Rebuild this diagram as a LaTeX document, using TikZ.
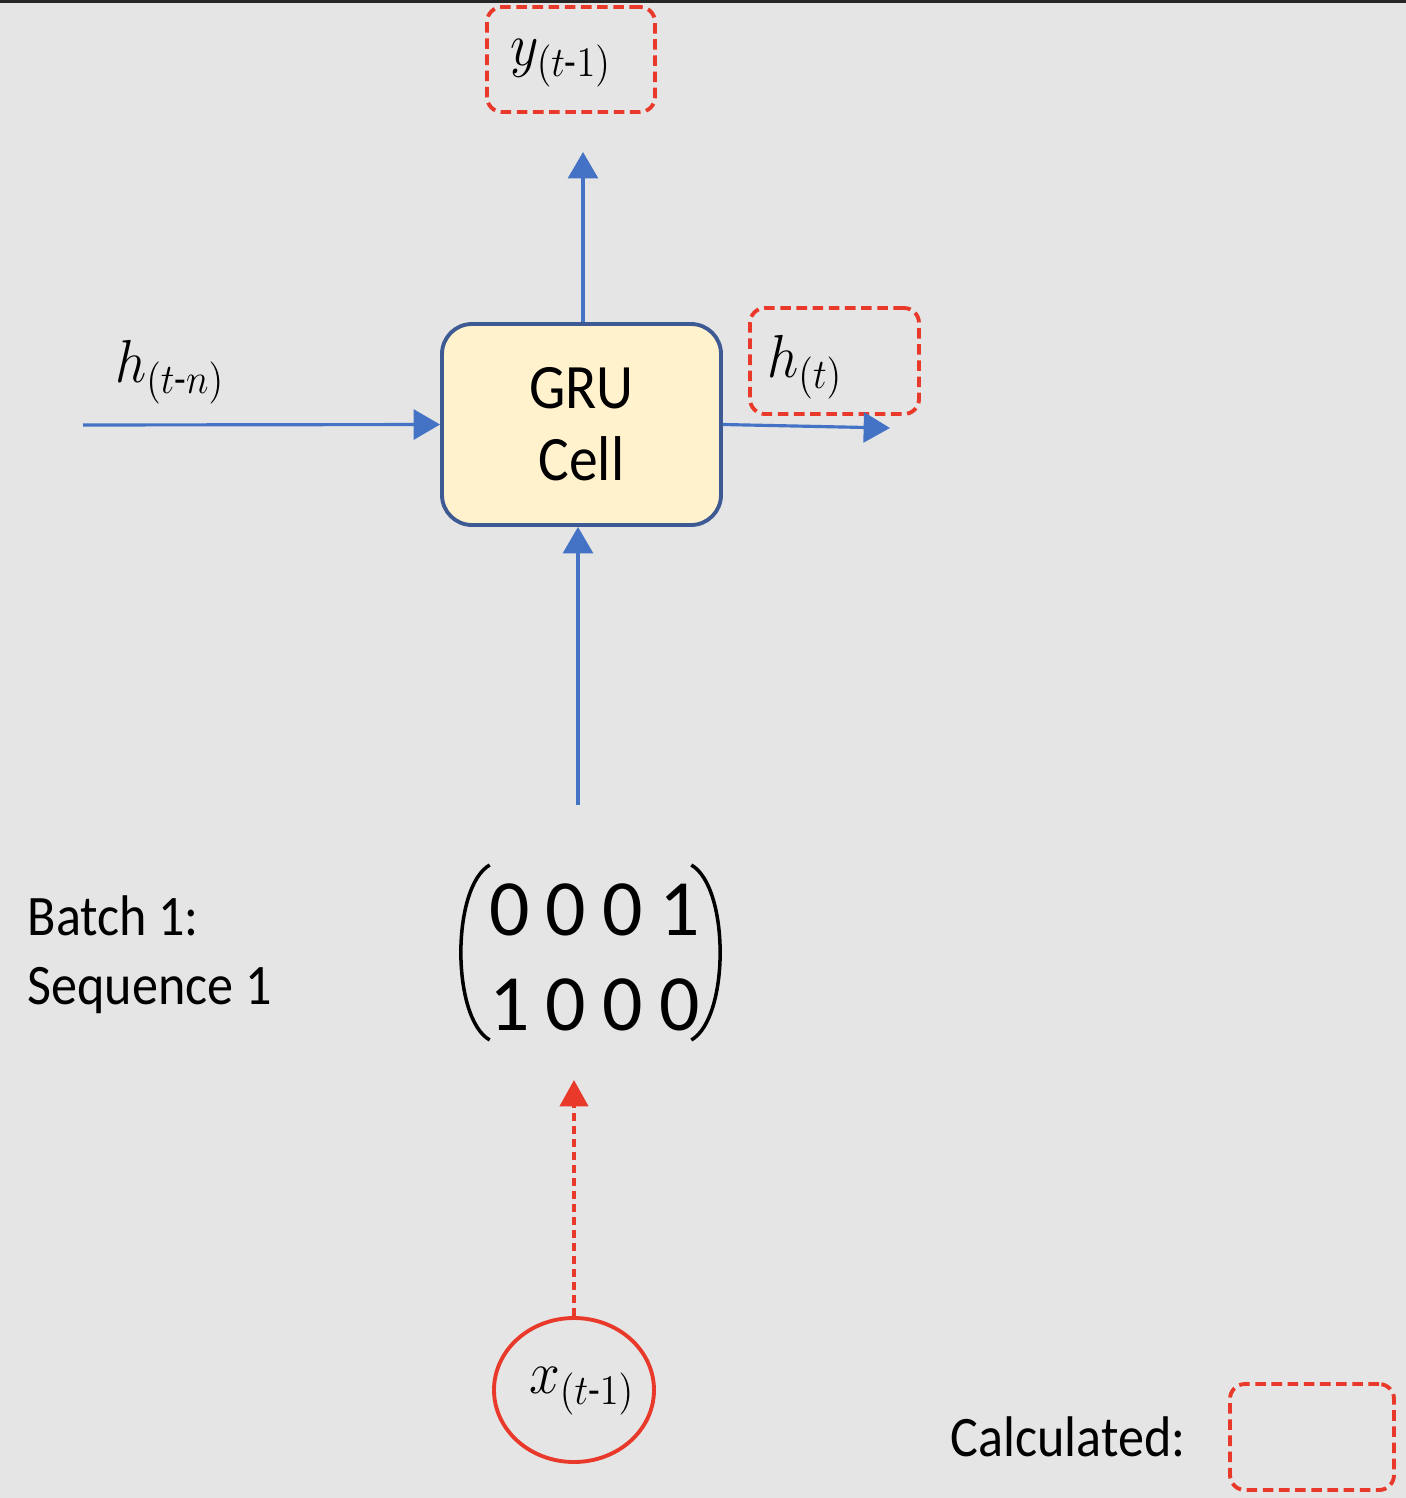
\documentclass[tikz,border=0pt]{standalone}
\usepackage{amsmath}
\usepackage{graphicx}
\usepackage{fontspec}
\setmainfont{Carlito}
\usepackage{tikz}
\usetikzlibrary{arrows.meta,shapes.geometric}

\definecolor{bggrey}{HTML}{E5E5E5}
\definecolor{flowblue}{HTML}{4472C4}
\definecolor{cellblue}{HTML}{3D5A94}
\definecolor{cellfill}{HTML}{FFF2CC}
\definecolor{calcred}{HTML}{E8392B}

% the text in the picture is a little narrower than it is tall
\newcommand{\squeeze}[1]{\scalebox{0.91}[1]{#1}}

\tikzset{
	flow/.style={flowblue, line width=0.9pt, -{Triangle[length=7.5pt,width=8.5pt]}},
	calcflow/.style={calcred, line width=1.1pt, dash pattern=on 2.3pt off 1.4pt, -{Triangle[length=7.5pt,width=8pt]}},
	calcbox/.style={draw=calcred, line width=1.1pt, dash pattern=on 3pt off 1.6pt, rounded corners=0.15cm},
	mathlbl/.style={font=\fontsize{17}{20}\selectfont},
	plain/.style={anchor=west, inner sep=0pt, align=left, font=\fontsize{16.3}{19.6}\selectfont},
	paren/.style={line width=1pt, looseness=0.65}
}

\begin{document}
\begin{tikzpicture}
				% background
				\fill[bggrey] (0,0) rectangle (14.06,-14.98);
				\fill[black!85] (0,0) rectangle (14.06,-0.03);

				% the cell and its outputs
				\node[draw=cellblue, fill=cellfill, line width=1.1pt, rounded corners=0.3cm, minimum width=2.79cm, minimum height=2.01cm, align=center, font=\fontsize{18}{20.5}\selectfont] (cell) at (5.815,-4.245) {\squeeze{GRU}\\\squeeze{Cell}};
				\node[calcbox, minimum width=1.68cm, minimum height=1.05cm] (ybox) at (5.71,-0.595) {};
				\node[mathlbl] (ylbl) at (5.61,-0.63) {\squeeze{$y_{(t\text{-}1)}$}};
				\node[calcbox, minimum width=1.69cm, minimum height=1.06cm] (hbox) at (8.345,-3.61) {};
				\node[mathlbl] (hlbl) at (8.05,-3.67) {\squeeze{$h_{(t)}$}};
				\node[mathlbl] (hprev) at (1.70,-3.72) {\squeeze{$h_{(t\text{-}n)}$}};

				\coordinate (hin) at (0.83,-4.25);
				\coordinate (hout) at (8.90,-4.28);
				\coordinate (ytip) at (5.83,-1.52);
				\coordinate (xin) at (5.78,-8.05);
				\draw[flow] (hin) -- (cell.west);
				\draw[flow] (cell.east) -- (hout);
				\draw[flow] (ytip |- cell.north) -- (ytip);
				\draw[flow] (xin) -- (xin |- cell.south);

				% input
				\node[inner sep=0pt, font=\fontsize{22.7}{27}\selectfont] (onehot) at (5.945,-9.64) {\setlength{\tabcolsep}{2.3pt}\begin{tabular}{@{}cccc@{}}0&0&0&1\\1&0&0&0\end{tabular}};
				\draw[paren] ([xshift=0.1mm,yshift=9.9mm]onehot.west) to[out=210, in=150] ([xshift=0.1mm,yshift=-7.6mm]onehot.west);
				\draw[paren] ([xshift=-0.9mm,yshift=9.9mm]onehot.east) to[out=-30, in=30] ([xshift=-0.9mm,yshift=-7.6mm]onehot.east);
				\node[plain] (batch) at (0.27,-9.55) {\squeeze{Batch 1:}\\\squeeze{Sequence 1}};

				\node[ellipse, draw=calcred, line width=1.1pt, minimum width=1.60cm, minimum height=1.44cm] (xnode) at (5.74,-13.90) {};
				\node[mathlbl] (xlbl) at (5.82,-13.91) {\squeeze{$x_{(t\text{-}1)}$}};
				\coordinate (mtip) at (5.73,-10.80);
				\draw[calcflow] (xnode.north) -- (xnode.north |- mtip);

				% legend
				\node[plain] (calc) at (9.50,-14.37) {\squeeze{Calculated:}};
				\node[calcbox, minimum width=1.64cm, minimum height=1.06cm] (legend) at (13.12,-14.37) {};
\end{tikzpicture}
\end{document}
